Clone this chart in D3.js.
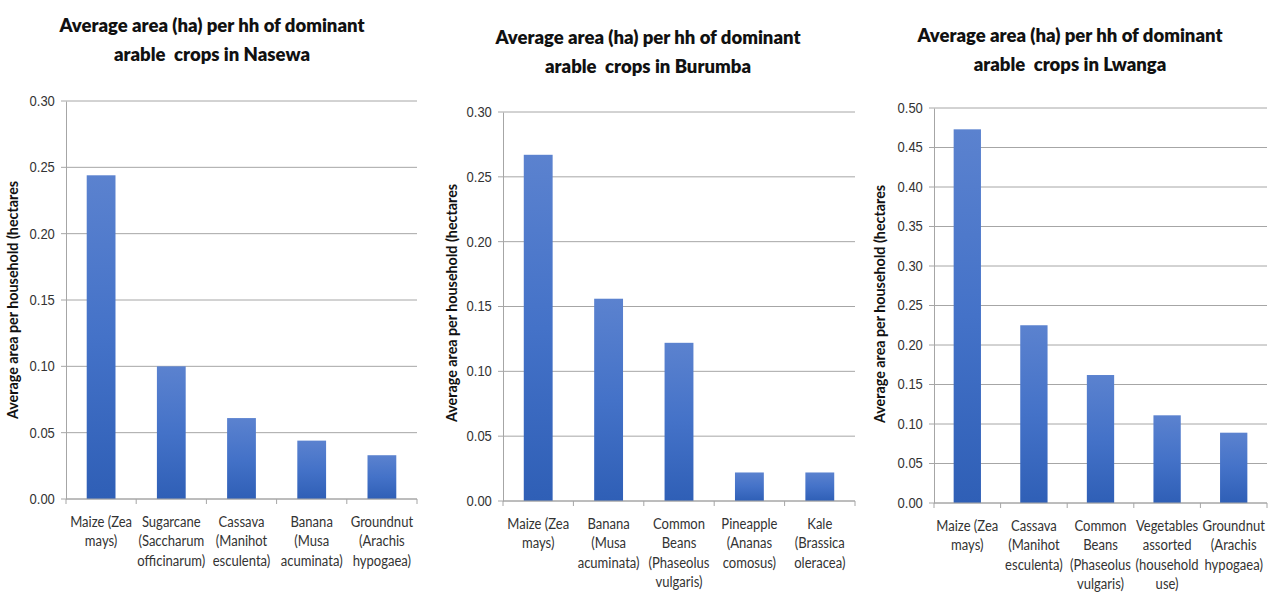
<!DOCTYPE html>
<html lang="en">
<head>
<meta charset="UTF-8">
<title>Average area per household of dominant arable crops</title>
<script src="https://d3js.org/d3.v7.min.js"></script>
<style>
  body { margin: 0; background: #fff; }
  svg { display: block; font-family: Lato, "Open Sans", sans-serif; }
  .title { font-size: 18.5px; font-weight: 800; fill: #111; white-space: pre; }
  .ytitle { font-size: 14.3px; font-weight: bold; fill: #111; }
  .tick text { font-size: 14px; fill: #333; }
  .cat { font-size: 15px; fill: #333; }
</style>
</head>
<body>
<svg id="chart" width="1268" height="595"></svg>
<script>
// --- data ---
const nasewaCrops = ["Maize (Zea\nmays)", "Sugarcane\n(Saccharum\nofficinarum)", "Cassava\n(Manihot\nesculenta)", "Banana\n(Musa\nacuminata)", "Groundnut\n(Arachis\nhypogaea)"];
const nasewaArea = [0.244, 0.100, 0.061, 0.044, 0.033];

const burumbaCrops = ["Maize (Zea\nmays)", "Banana\n(Musa\nacuminata)", "Common\nBeans\n(Phaseolus\nvulgaris)", "Pineapple\n(Ananas\ncomosus)", "Kale\n(Brassica\noleracea)"];
const burumbaArea = [0.267, 0.156, 0.122, 0.022, 0.022];

const lwangaCrops = ["Maize (Zea\nmays)", "Cassava\n(Manihot\nesculenta)", "Common\nBeans\n(Phaseolus\nvulgaris)", "Vegetables\nassorted\n(household\nuse)", "Groundnut\n(Arachis\nhypogaea)"];
const lwangaArea = [0.473, 0.225, 0.162, 0.111, 0.089];

const yTicks30 = [0, 0.05, 0.10, 0.15, 0.20, 0.25, 0.30];
const yTicks50 = [0, 0.05, 0.10, 0.15, 0.20, 0.25, 0.30, 0.35, 0.40, 0.45, 0.50];

const yLabel = "Average area per household (hectares";

const svg = d3.select("#chart");

// bar gradient (lighter at top, like the Excel bars)
const grad = svg.append("defs").append("linearGradient")
  .attr("id", "barGrad").attr("x1", 0).attr("y1", 0).attr("x2", 0).attr("y2", 1);
grad.append("stop").attr("offset", "0%").attr("stop-color", "#5b82cf");
grad.append("stop").attr("offset", "50%").attr("stop-color", "#4472c8");
grad.append("stop").attr("offset", "100%").attr("stop-color", "#2f5fb6");

function drawChart(box, cats, vals, ticks, titleLines) {
  const g = svg.append("g").attr("transform", `translate(${box.x},${box.top})`);
  const w = box.w, h = box.h;

  const x = d3.scaleBand().domain(cats).range([0, w]).paddingInner(0.59).paddingOuter(0.295);
  const y = d3.scaleLinear().domain([0, d3.max(ticks)]).range([h, 0]);

  // gridlines
  g.selectAll(".grid").data(ticks).join("line")
    .attr("x1", -5).attr("x2", w)
    .attr("y1", d => y(d)).attr("y2", d => y(d))
    .attr("stroke", "#a6a6a6").attr("stroke-width", 1);

  // y axis
  const ya = g.append("g")
    .call(d3.axisLeft(y).tickValues(ticks).tickFormat(d3.format(".2f")).tickSize(0).tickPadding(12));
  ya.select(".domain").attr("stroke", "#a6a6a6");
  ya.selectAll(".tick text").attr("transform", "scale(0.93,1)");

  // bars
  g.selectAll(".bar").data(vals).join("rect")
    .attr("x", (d, i) => x(cats[i]))
    .attr("y", d => y(d))
    .attr("width", x.bandwidth())
    .attr("height", d => h - y(d))
    .attr("fill", "url(#barGrad)");

  // x axis baseline + ticks between categories
  const step = w / cats.length;
  g.append("line").attr("x1", 0).attr("x2", w).attr("y1", h).attr("y2", h).attr("stroke", "#a6a6a6");
  g.selectAll(".xt").data(d3.range(cats.length + 1)).join("line")
    .attr("x1", i => i * step).attr("x2", i => i * step)
    .attr("y1", h).attr("y2", h + 5).attr("stroke", "#a6a6a6");

  // category labels (narrow, Calibri-like)
  cats.forEach((c, i) => {
    const cx = x(c) + x.bandwidth() / 2;
    const t = g.append("text").attr("class", "cat").attr("text-anchor", "middle")
      .attr("transform", `translate(${cx},${h + 28}) scale(0.87,1)`);
    c.split("\n").forEach((line, k) => {
      t.append("tspan").attr("x", 0).attr("dy", k === 0 ? 0 : 19.3).text(line);
    });
  });

  // y title
  g.append("text").attr("class", "ytitle").attr("text-anchor", "middle")
    .attr("transform", `translate(${box.yTitleX},${box.yTitleY - box.top}) rotate(-90)`)
    .text(yLabel);

  // chart title
  titleLines.forEach((line, k) => {
    svg.append("text").attr("class", "title").attr("text-anchor", "middle")
      .attr("x", box.titleX).attr("y", box.titleY + k * 28.5).text(line);
  });
}

drawChart({ x: 66, top: 101, w: 351, h: 398, yTitleX: -48, yTitleY: 300, titleX: 212, titleY: 32 },
  nasewaCrops, nasewaArea, yTicks30,
  ["Average area (ha) per hh of dominant", "arable  crops in Nasewa"]);

drawChart({ x: 503, top: 112, w: 352, h: 389, yTitleX: -46, yTitleY: 303, titleX: 648, titleY: 44 },
  burumbaCrops, burumbaArea, yTicks30,
  ["Average area (ha) per hh of dominant", "arable  crops in Burumba"]);

drawChart({ x: 934, top: 108, w: 333, h: 395, yTitleX: -49, yTitleY: 304, titleX: 1070, titleY: 42 },
  lwangaCrops, lwangaArea, yTicks50,
  ["Average area (ha) per hh of dominant", "arable  crops in Lwanga"]);
</script>
</body>
</html>
